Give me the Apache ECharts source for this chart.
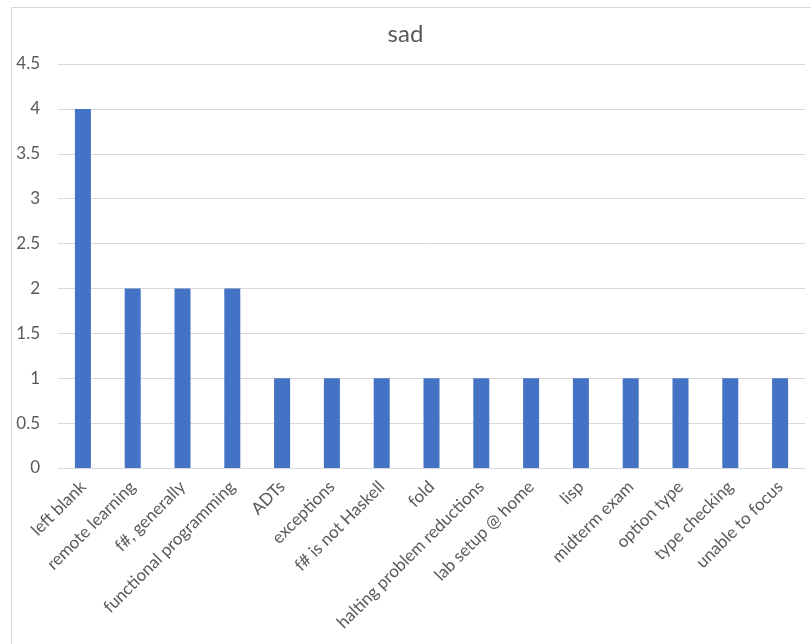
<!DOCTYPE html>
<html>
<head>
<meta charset="utf-8">
<script src="https://cdn.jsdelivr.net/npm/echarts@6/dist/echarts.min.js"></script>
<style>
  html, body { margin: 0; padding: 0; background: #ffffff; }
  #chart { width: 811px; height: 644px; }
</style>
</head>
<body>
<div id="chart"></div>
<script>
// Topics and how many responses mentioned each
const categories = [
  'left blank', 'remote learning', 'f#, generally', 'functional programming',
  'ADTs', 'exceptions', 'f# is not Haskell', 'fold', 'halting problem reductions',
  'lab setup @ home', 'lisp', 'midterm exam', 'option type', 'type checking',
  'unable to focus'
];
const counts = [4, 2, 2, 2, 1, 1, 1, 1, 1, 1, 1, 1, 1, 1, 1];
const yTicks = [0, 0.5, 1, 1.5, 2, 2.5, 3, 3.5, 4, 4.5];

const chart = echarts.init(document.getElementById('chart'));
const textColor = '#595959';
const font = 'Lato, "Open Sans", sans-serif';

chart.setOption({
  animation: false,
  backgroundColor: '#ffffff',
  textStyle: { fontFamily: font },
  title: {
    text: 'sad',
    left: 'center',
    top: 17,
    textStyle: { color: textColor, fontSize: 24, fontWeight: 'normal', fontFamily: font }
  },
  graphic: [{
    type: 'rect',
    shape: { x: 11.5, y: 7.5, width: 820, height: 700 },
    style: { fill: 'none', stroke: '#d9d9d9', lineWidth: 1 },
    silent: true
  }],
  grid: { left: 58, right: 6, top: 64, bottom: 176, containLabel: false },
  xAxis: {
    type: 'category',
    data: categories,
    axisLine: { show: true, lineStyle: { color: '#d9d9d9', width: 1 } },
    axisTick: { show: false },
    axisLabel: {
      interval: 0,
      rotate: 45,
      margin: 16,
      color: textColor,
      fontSize: 17,
      fontFamily: font
    }
  },
  yAxis: {
    type: 'value',
    min: yTicks[0],
    max: yTicks[yTicks.length - 1],
    interval: 0.5,
    axisLine: { show: false },
    axisTick: { show: false },
    splitLine: { lineStyle: { color: '#d9d9d9', width: 1 } },
    axisLabel: {
      color: textColor,
      fontSize: 17,
      fontFamily: font,
      margin: 18,
      formatter: v => String(v)
    }
  },
  series: [{
    type: 'bar',
    data: counts,
    barWidth: 16,
    itemStyle: { color: '#4472c4' }
  }]
});
</script>
</body>
</html>
